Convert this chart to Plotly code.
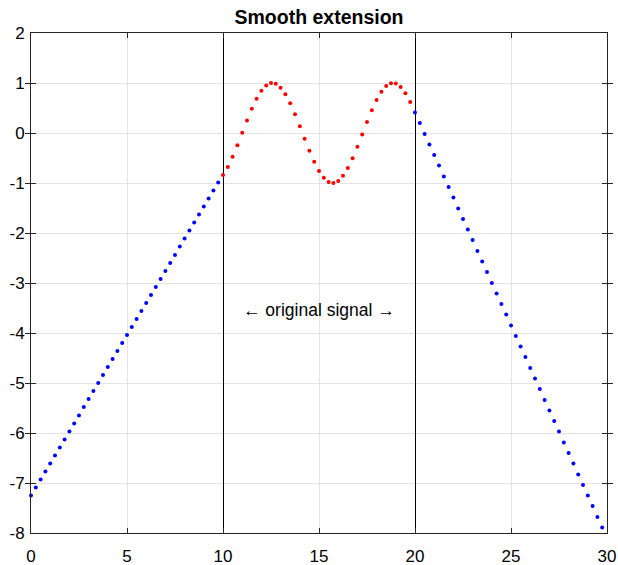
import plotly.graph_objects as go

# ---- data ----
x_left = [0.0, 0.25, 0.5, 0.75, 1.0, 1.25, 1.5, 1.75, 2.0, 2.25, 2.5, 2.75, 3.0, 3.25, 3.5, 3.75,
          4.0, 4.25, 4.5, 4.75, 5.0, 5.25, 5.5, 5.75, 6.0, 6.25, 6.5, 6.75, 7.0, 7.25, 7.5, 7.75,
          8.0, 8.25, 8.5, 8.75, 9.0, 9.25, 9.5, 9.75]
y_left = [-7.25, -7.09, -6.93, -6.77, -6.61, -6.45, -6.29, -6.13, -5.97, -5.81, -5.65, -5.48,
          -5.32, -5.16, -5.00, -4.84, -4.68, -4.52, -4.36, -4.20, -4.04, -3.88, -3.72, -3.56,
          -3.40, -3.24, -3.08, -2.92, -2.76, -2.60, -2.44, -2.27, -2.11, -1.95, -1.79, -1.63,
          -1.47, -1.31, -1.15, -0.99]

x_orig = [10.0, 10.25, 10.5, 10.75, 11.0, 11.25, 11.5, 11.75, 12.0, 12.25, 12.5, 12.75, 13.0,
          13.25, 13.5, 13.75, 14.0, 14.25, 14.5, 14.75, 15.0, 15.25, 15.5, 15.75, 16.0, 16.25,
          16.5, 16.75, 17.0, 17.25, 17.5, 17.75, 18.0, 18.25, 18.5, 18.75, 19.0, 19.25, 19.5, 19.75]
y_orig = [-0.839, -0.678, -0.475, -0.243, 0.004, 0.252, 0.484, 0.685, 0.844, 0.950, 0.998,
          0.983, 0.907, 0.775, 0.595, 0.377, 0.137, -0.113, -0.355, -0.575, -0.760, -0.897,
          -0.979, -0.999, -0.958, -0.856, -0.702, -0.504, -0.275, -0.028, 0.220, 0.454, 0.661,
          0.826, 0.940, 0.995, 0.989, 0.921, 0.796, 0.621]

x_right = [20.0, 20.25, 20.5, 20.75, 21.0, 21.25, 21.5, 21.75, 22.0, 22.25, 22.5, 22.75, 23.0,
           23.25, 23.5, 23.75, 24.0, 24.25, 24.5, 24.75, 25.0, 25.25, 25.5, 25.75, 26.0, 26.25,
           26.5, 26.75, 27.0, 27.25, 27.5, 27.75, 28.0, 28.25, 28.5, 28.75, 29.0, 29.25, 29.5, 29.75]
y_right = [0.41, 0.20, -0.02, -0.23, -0.44, -0.65, -0.87, -1.08, -1.29, -1.51, -1.72, -1.93,
           -2.14, -2.36, -2.57, -2.78, -3.00, -3.21, -3.42, -3.63, -3.85, -4.06, -4.27, -4.48,
           -4.70, -4.91, -5.12, -5.34, -5.55, -5.76, -5.97, -6.19, -6.40, -6.61, -6.83, -7.04,
           -7.25, -7.46, -7.68, -7.89]

boundaries = [10, 20]
x_ticks = [0, 5, 10, 15, 20, 25, 30]
x_tick_labels = ["0", "5", "10", "15", "20", "25", "30"]
y_ticks = [-8, -7, -6, -5, -4, -3, -2, -1, 0, 1, 2]
y_tick_labels = ["-8", "-7", "-6", "-5", "-4", "-3", "-2", "-1", "0", "1", "2"]

title_text = "Smooth extension"
note_text = "\u2190 original signal \u2192"
note_pos = (15, -3.53)

FONT = "Liberation Sans, Arial, Helvetica, sans-serif"

W, H = 618, 565

fig = go.Figure()
marker_blue = dict(color="#0000ff", size=4)
marker_red = dict(color="#ff0000", size=4)

# helper overlay axis whose (crisp) grid lines mark the original-signal boundaries
fig.add_trace(go.Scatter(x=[], y=[], xaxis="x2", showlegend=False, hoverinfo="skip"))

fig.add_trace(go.Scatter(x=x_left, y=y_left, mode="markers", marker=marker_blue,
                         cliponaxis=False, showlegend=False))
fig.add_trace(go.Scatter(x=x_orig, y=y_orig, mode="markers", marker=marker_red,
                         cliponaxis=False, showlegend=False))
fig.add_trace(go.Scatter(x=x_right, y=y_right, mode="markers", marker=marker_blue,
                         cliponaxis=False, showlegend=False))

fig.add_annotation(x=note_pos[0], y=note_pos[1], text=note_text, showarrow=False,
                   font=dict(family=FONT, size=17.5, color="#000000"),
                   xanchor="center", yanchor="middle")

axis_common = dict(
    showgrid=True, gridcolor="#e3e3e3", gridwidth=1,
    showline=True, linecolor="#262626", linewidth=1, mirror="allticks",
    ticks="inside", ticklen=5, tickcolor="#262626", tickwidth=1,
    zeroline=False, automargin=False,
    tickfont=dict(family=FONT, size=17, color="#000000"),
)

fig.update_layout(
    width=W, height=H,
    margin=dict(l=31, r=11, t=33, b=32),
    paper_bgcolor="white", plot_bgcolor="white",
    title=dict(text="<b>" + title_text + "</b>", x=0.5, xref="paper",
               y=1 - 17.5 / H, yref="container", yanchor="middle", xanchor="center",
               font=dict(family=FONT, size=19.5, color="#000000")),
    xaxis=dict(range=[0, 30], tickvals=x_ticks, ticktext=x_tick_labels,
               ticklabelstandoff=8, **axis_common),
    xaxis2=dict(range=[0, 30], overlaying="x", matches="x", side="top",
                tickvals=boundaries, showticklabels=False, ticks="",
                showgrid=True, gridcolor="#000000", gridwidth=1,
                showline=False, zeroline=False, automargin=False),
    yaxis=dict(range=[-8, 2], tickvals=y_ticks, ticktext=y_tick_labels,
               ticklabelstandoff=2, **axis_common),
)

fig.write_html("out.html",
               config={"displayModeBar": False},
               post_script="document.body.style.margin='0';document.body.style.overflow='hidden';")
